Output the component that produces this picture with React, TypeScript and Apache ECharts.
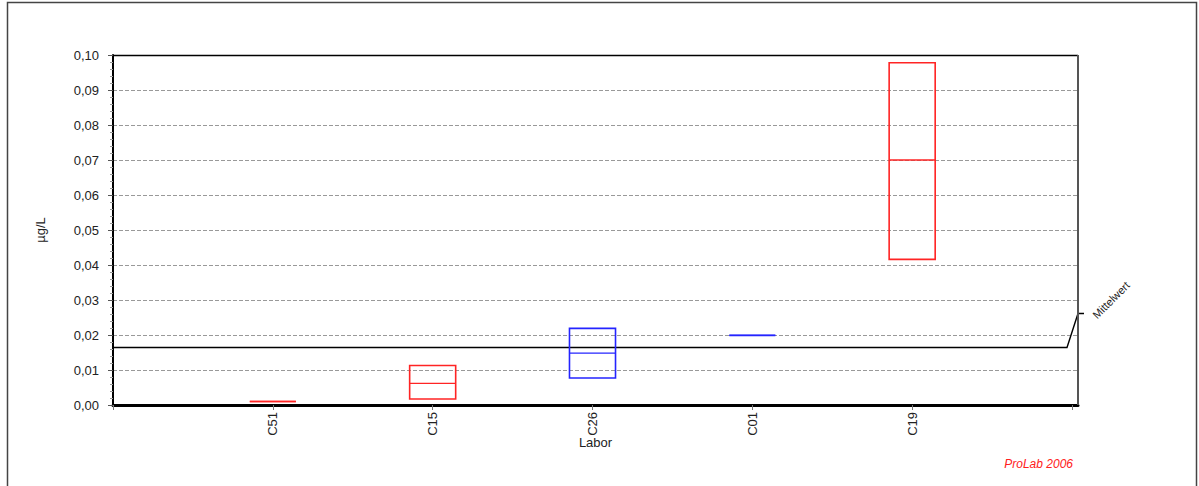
import React, { useEffect, useRef } from "react";
import * as echarts from "echarts";

const labs = ["C51", "C15", "C26", "C01", "C19"];
const positions = [1, 2, 3, 4, 5];
const lows = [0.001, 0.0017, 0.0077, 0.0199, 0.0416];
const medians = [0.001, 0.0062, 0.0148, 0.0199, 0.07];
const highs = [0.001, 0.0113, 0.0219, 0.0199, 0.0978];
const groups = ["r", "r", "b", "b", "r"];
const meanValue = 0.0165;
const yTicks = [0, 0.01, 0.02, 0.03, 0.04, 0.05, 0.06, 0.07, 0.08, 0.09, 0.1];
const xTicks = [0, 1, 2, 3, 4, 5, 6];

const FONT = "'Liberation Sans', Arial, sans-serif";
const COLORS: Record<string, string> = { r: "#ff2424", b: "#2424ff" };

export default function App() {
  const ref = useRef<HTMLDivElement>(null);
  useEffect(() => {
    if (!ref.current) return;
    const chart = echarts.init(ref.current, null, { renderer: "svg" });
    const xMax = 6 * 965 / 959;
    const boxData = labs.map((_, i) => [positions[i], lows[i], medians[i], highs[i], i]);
    chart.setOption({
      animation: false,
      backgroundColor: "#fff",
      textStyle: { fontFamily: FONT },
      grid: { left: 113, top: 55, width: 965, height: 350 },
      xAxis: {
        type: "value",
        min: 0,
        max: xMax,
        name: "Labor",
        nameLocation: "middle",
        nameGap: 31,
        nameMoveOverlap: false,
        nameTextStyle: { color: "#222", fontSize: 13, fontFamily: FONT },
        axisLine: { show: true, lineStyle: { color: "#000", width: 3 } },
        axisTick: { show: true, length: 5, customValues: xTicks, lineStyle: { color: "#777", width: 1 } },
        axisLabel: {
          customValues: positions,
          rotate: 90,
          margin: 7,
          color: "#222",
          fontSize: 13,
          fontFamily: FONT,
          formatter: (v: number) => {
            const idx = positions.indexOf(Math.round(v));
            return idx >= 0 ? labs[idx] : "";
          },
        },
        splitLine: { show: false },
      },
      yAxis: {
        type: "value",
        min: 0,
        max: 0.1,
        interval: 0.01,
        name: "µg/L",
        nameLocation: "middle",
        nameGap: 66,
        nameRotate: 90,
        nameTextStyle: { color: "#222", fontSize: 13, fontFamily: FONT },
        axisLine: { show: true, lineStyle: { color: "#000", width: 2 } },
        axisTick: { show: true, length: 5, lineStyle: { color: "#555" } },
        minorTick: { show: true, splitNumber: 5, length: 3, lineStyle: { color: "#999" } },
        axisLabel: {
          margin: 14,
          color: "#222",
          fontSize: 13,
          fontFamily: FONT,
          formatter: (v: number) => {
            const near = yTicks.find((t) => Math.abs(t - v) < 1e-9);
            return near !== undefined ? near.toFixed(2).replace(".", ",") : "";
          },
        },
        splitLine: { show: true, lineStyle: { color: "#999", type: [4, 2], width: 1 } },
      },
      graphic: [
        { type: "rect", shape: { x: 7.5, y: 2.5, width: 1189, height: 500 }, style: { fill: "none", stroke: "#444", lineWidth: 1.5 }, silent: true },
        { type: "line", shape: { x1: 113, y1: 55.5, x2: 1078, y2: 55.5 }, style: { stroke: "#000", lineWidth: 1.5 }, z: 10 },
        { type: "line", shape: { x1: 1078, y1: 55, x2: 1078, y2: 405 }, style: { stroke: "#555", lineWidth: 2 }, z: 10 },
        {
          type: "text",
          x: 1111,
          y: 300,
          rotation: Math.PI / 4,
          style: { text: "Mittelwert", fill: "#222", font: "11px " + FONT, align: "center", verticalAlign: "middle" },
          z: 10,
        },
        {
          type: "text",
          right: 126,
          top: 458,
          style: { text: "ProLab 2006", fill: "#ff2020", font: "italic 12px " + FONT },
          z: 10,
        },
      ],
      series: [
        {
          type: "custom",
          name: "mean",
          clip: false,
          data: [[0, meanValue]],
          renderItem: (params: any, api: any) => {
            const a = api.coord([0, api.value(1)]);
            const b = api.coord([xMax, api.value(1)]);
            const y = Math.round(a[1]) + 0.5;
            return {
              type: "polyline",
              shape: { points: [[a[0], y], [b[0] - 11, y], [b[0], y - 34], [b[0] + 6, y - 34]] },
              style: { stroke: "#000", fill: "none", lineWidth: 1.4 },
            };
          },
          z: 3,
        },
        {
          type: "custom",
          name: "boxes",
          clip: false,
          data: boxData,
          renderItem: (params: any, api: any) => {
            const x = api.value(0);
            const pLo = api.coord([x, api.value(1)]);
            const pMed = api.coord([x, api.value(2)]);
            const pHi = api.coord([x, api.value(3)]);
            const w = api.size([0.288, 0])[0];
            const color = COLORS[groups[api.value(4)]];
            const left = pHi[0] - w / 2;
            return {
              type: "group",
              children: [
                {
                  type: "rect",
                  shape: { x: left, y: pHi[1], width: w, height: pLo[1] - pHi[1] },
                  style: { fill: "none", stroke: color, lineWidth: 1.6 },
                },
                {
                  type: "line",
                  shape: { x1: left, y1: pMed[1], x2: left + w, y2: pMed[1] },
                  style: { stroke: color, lineWidth: 1.3 },
                },
              ],
            };
          },
          z: 4,
        },
      ],
    });
    return () => chart.dispose();
  }, []);
  return (
    <div
      ref={ref}
      style={{ position: "absolute", left: 0, top: 0, width: 1199, height: 486 }}
    />
  );
}
